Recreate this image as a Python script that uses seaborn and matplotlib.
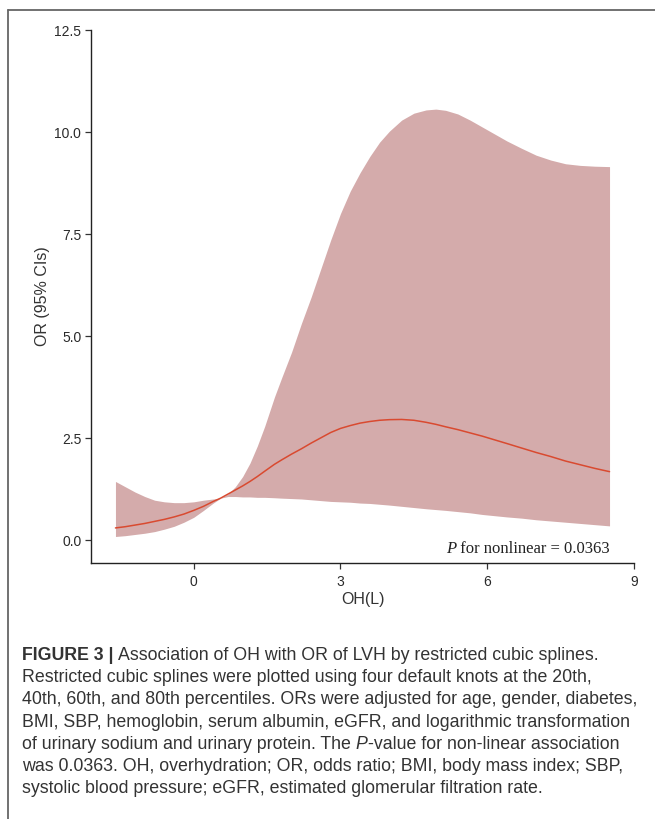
import matplotlib
matplotlib.use("Agg")
import matplotlib.pyplot as plt
import seaborn as sns
import numpy as np
import pandas as pd
from matplotlib.lines import Line2D

# ---- data ----
oh = [-1.6, -1.4, -1.2, -1.0, -0.8, -0.6, -0.4, -0.2, 0.0, 0.2, 0.4, 0.55,
      0.7, 0.85, 1.0, 1.15, 1.3, 1.45, 1.65, 1.8, 2.0, 2.2, 2.4, 2.6,
      2.8, 3.0, 3.2, 3.4, 3.6, 3.8, 4.0, 4.25, 4.5, 4.75, 4.95, 5.15,
      5.4, 5.65, 5.9, 6.15, 6.4, 6.7, 7.0, 7.3, 7.6, 7.9, 8.2, 8.5]
or_est = [0.29, 0.32, 0.36, 0.40, 0.45, 0.50, 0.56, 0.63, 0.72, 0.82, 0.94, 1.02,
          1.12, 1.22, 1.32, 1.43, 1.55, 1.68, 1.85, 1.96, 2.10, 2.23, 2.37, 2.50,
          2.63, 2.73, 2.80, 2.86, 2.90, 2.93, 2.945, 2.95, 2.93, 2.88, 2.83, 2.77,
          2.70, 2.62, 2.54, 2.45, 2.36, 2.25, 2.14, 2.04, 1.93, 1.84, 1.75, 1.67]
ci_low = [0.08, 0.10, 0.13, 0.16, 0.20, 0.26, 0.33, 0.43, 0.55, 0.72, 0.90, 1.02,
          1.06, 1.06, 1.05, 1.05, 1.04, 1.04, 1.03, 1.02, 1.01, 1.00, 0.98, 0.96,
          0.94, 0.93, 0.92, 0.90, 0.89, 0.87, 0.85, 0.82, 0.79, 0.76, 0.74, 0.72,
          0.69, 0.66, 0.62, 0.59, 0.56, 0.53, 0.49, 0.46, 0.43, 0.40, 0.37, 0.34]
ci_high = [1.43, 1.30, 1.17, 1.06, 0.97, 0.93, 0.91, 0.91, 0.93, 0.97, 1.00, 1.02,
           1.12, 1.30, 1.55, 1.88, 2.30, 2.78, 3.50, 3.98, 4.60, 5.30, 5.95, 6.65,
           7.35, 8.00, 8.55, 9.00, 9.40, 9.75, 10.02, 10.29, 10.46, 10.54, 10.56, 10.53,
           10.44, 10.29, 10.12, 9.95, 9.78, 9.60, 9.43, 9.31, 9.22, 9.18, 9.16, 9.15]
x_ticks = [0, 3, 6, 9]
y_ticks = [0.0, 2.5, 5.0, 7.5, 10.0, 12.5]
p_text = "0.0363"

df = pd.DataFrame({"OH": oh, "OR": or_est, "lo": ci_low, "hi": ci_high})

sns.set_style("ticks")
plt.rcParams["font.family"] = ["Liberation Sans", "DejaVu Sans"]

fig = plt.figure(figsize=(6.55, 8.2), dpi=100)
ax = fig.add_axes([91 / 655, 1 - 564 / 820, 543 / 655, 533 / 820])

ax.fill_between(df["OH"], df["lo"], df["hi"], color="#d4abab", linewidth=0, zorder=1)
sns.lineplot(data=df, x="OH", y="OR", ax=ax, color="#d94a30", linewidth=1.1, zorder=2)

ax.set_xlim(-2.1, 9)
ax.set_ylim(-0.57, 12.5)
ax.set_xticks(x_ticks)
ax.set_xticklabels([str(t) for t in x_ticks])
ax.set_yticks(y_ticks)
ax.set_yticklabels([f"{t:.1f}" for t in y_ticks])
sns.despine(ax=ax)
for s in ["left", "bottom"]:
    ax.spines[s].set_color("#222222")
    ax.spines[s].set_linewidth(1.0)
ax.tick_params(axis="both", direction="out", length=4, width=0.9, color="#333333",
               labelsize=10, labelcolor="#2a2a2a")
ax.tick_params(axis="y", pad=3)
ax.tick_params(axis="x", pad=4)

ax.set_xlabel("OH(L)", fontsize=11.5, color="#333333")
ax.set_ylabel("OR (95% CIs)", fontsize=11.5, color="#333333")
ax.xaxis.set_label_coords(0.5, (564 - 600) / 533)
ax.xaxis.label.set_va("center")
ax.yaxis.set_label_coords((42 - 91) / 543, (564 - 296) / 533)
ax.yaxis.label.set_va("center")

# P for nonlinear annotation (serif, italic P)
serif = ["Liberation Serif", "DejaVu Serif"]
fig.canvas.draw()
renderer = fig.canvas.get_renderer()
t2 = fig.text(610 / 655, 1 - 553 / 820, f" for nonlinear = {p_text}", family=serif,
              fontsize=12, ha="right", va="baseline", color="#222222")
bb = t2.get_window_extent(renderer)
fig.text(bb.x0 / fig.bbox.width, 1 - 553 / 820, "P", family=serif, style="italic",
         fontsize=12, ha="right", va="baseline", color="#222222")

# frame lines (top and left)
fig.add_artist(Line2D([7.5 / 655, 1.0], [1 - 10.5 / 820] * 2, transform=fig.transFigure,
                      color="#666666", linewidth=1.3))
fig.add_artist(Line2D([7.5 / 655] * 2, [0.0, 1 - 10.5 / 820], transform=fig.transFigure,
                      color="#666666", linewidth=1.3))

# caption
cap_lines = [
    [("FIGURE 3 | ", "bold", "normal"), ("Association of OH with OR of LVH by restricted cubic splines.", "normal", "normal")],
    [("Restricted cubic splines were plotted using four default knots at the 20th,", "normal", "normal")],
    [("40th, 60th, and 80th percentiles. ORs were adjusted for age, gender, diabetes,", "normal", "normal")],
    [("BMI, SBP, hemoglobin, serum albumin, eGFR, and logarithmic transformation", "normal", "normal")],
    [("of urinary sodium and urinary protein. The ", "normal", "normal"), ("P", "normal", "italic"),
     ("-value for non-linear association", "normal", "normal")],
    [("was 0.0363. OH, overhydration; OR, odds ratio; BMI, body mass index; SBP,", "normal", "normal")],
    [("systolic blood pressure; eGFR, estimated glomerular filtration rate.", "normal", "normal")],
]
cap_fs = 12.8
y0 = 660
dy = 22.2
for i, segs in enumerate(cap_lines):
    xpx = 22
    ypx = y0 + i * dy
    for txt, wt, st in segs:
        t = fig.text(xpx / 655, 1 - ypx / 820, txt, fontsize=cap_fs, weight=wt, style=st,
                     ha="left", va="baseline", color="#333333")
        e = t.get_window_extent(renderer)
        xpx = e.x1

fig.savefig("out.png", dpi=100)
